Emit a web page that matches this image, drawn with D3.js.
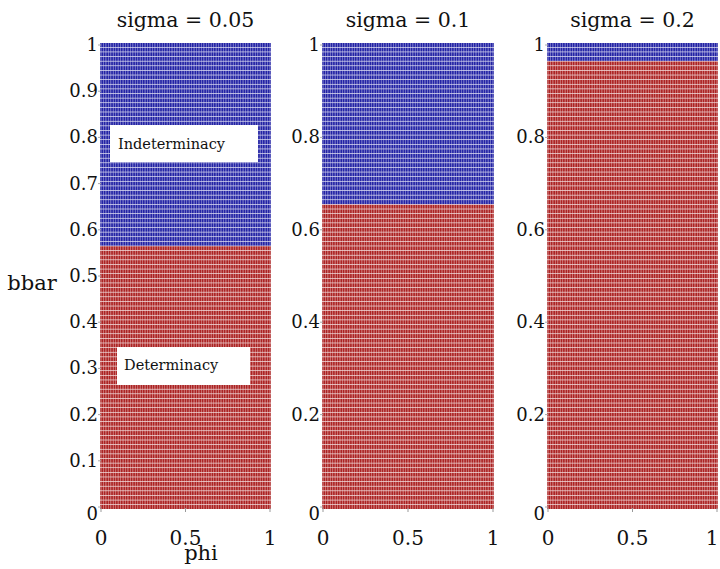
<!DOCTYPE html>
<html><head><meta charset="utf-8">
<script src="https://cdn.jsdelivr.net/npm/d3@7/dist/d3.min.js"></script>
<style>body{margin:0;background:#fff}svg{display:block}</style>
</head><body><svg id="c" width="720" height="569"></svg>
<script>
// Data
const sigmas = [0.05, 0.1, 0.2];
const titles = ["sigma = 0.05", "sigma = 0.1", "sigma = 0.2"];
const thresholds = [0.565, 0.655, 0.965]; // bbar above this => indeterminacy
const phiGrid = d3.range(0, 101).map(i => i / 100);
const bbarGrid = d3.range(0, 101).map(i => i / 100);
const yTicksList = [
  [0, 0.1, 0.2, 0.3, 0.4, 0.5, 0.6, 0.7, 0.8, 0.9, 1],
  [0, 0.2, 0.4, 0.6, 0.8, 1],
  [0, 0.2, 0.4, 0.6, 0.8, 1]
];
const xTicks = [0, 0.5, 1];

const svg = d3.select("#c");
const FONT = "DejaVu Serif";
const panelX = [[101, 270], [323, 493], [548, 717]];
const yRange = [507, 45];
const colors = {ind: "rgb(35,35,165)", det: "rgb(172,35,35)"};

function txt(xp, yp, s, size, anchor) {
  return svg.append("text").attr("x", xp).attr("y", yp).style("font-family", FONT)
    .attr("font-size", size).attr("text-anchor", anchor || "start").attr("fill", "#111").text(s);
}

sigmas.forEach((s, p) => {
  const x = d3.scaleLinear().domain([0, 1]).range(panelX[p]);
  const y = d3.scaleLinear().domain([0, 1]).range(yRange);
  const g = svg.append("g");
  const pts = [];
  bbarGrid.forEach(b => phiGrid.forEach(f => pts.push({f, b, ind: b > thresholds[p]})));
  g.selectAll("rect.m").data(pts).join("rect")
    .attr("x", d => x(d.f) - 0.75).attr("y", d => y(d.b) - 2)
    .attr("width", 1.5).attr("height", 4)
    .attr("fill", d => d.ind ? colors.ind : colors.det);
  txt((panelX[p][0] + panelX[p][1]) / 2, 27, titles[p], 20.5, "middle");
  yTicksList[p].forEach(t => {
    txt(panelX[p][0] - 3, y(t) + (t === 0 ? 13 : 6), t, 18, "end");
    svg.append("line").attr("x1", panelX[p][0] - 3).attr("x2", panelX[p][0]).attr("y1", y(t)).attr("y2", y(t))
      .attr("stroke", "#aaa").attr("stroke-width", 1);
  });
  xTicks.forEach(t => {
    svg.append("line").attr("x1", x(t)).attr("x2", x(t)).attr("y1", 508).attr("y2", 512)
      .attr("stroke", "#999").attr("stroke-width", 1);
    txt(Math.min(x(t), 712), 545, t, 20, "middle");
  });
});

// annotation boxes
svg.append("rect").attr("x", 110).attr("y", 125).attr("width", 148).attr("height", 37).attr("fill", "#fff");
txt(118, 149, "Indeterminacy", 14.5);
svg.append("rect").attr("x", 117).attr("y", 347).attr("width", 133).attr("height", 38).attr("fill", "#fff");
txt(124, 370, "Determinacy", 14.5);

// axis labels
txt(201, 560, "phi", 21, "middle");
txt(32, 290, "bbar", 21, "middle");
</script></body></html>
